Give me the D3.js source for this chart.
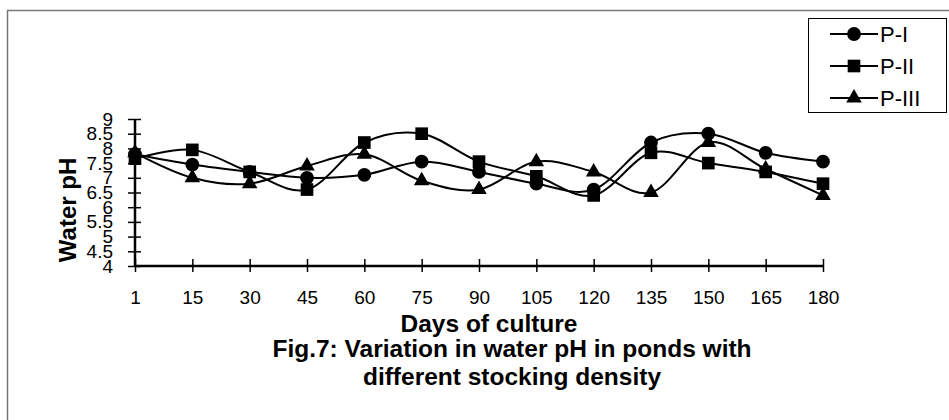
<!DOCTYPE html>
<html>
<head>
<meta charset="utf-8">
<script src="https://cdn.jsdelivr.net/npm/d3@7"></script>
<style>
  html, body { margin: 0; padding: 0; background: #fff; }
  svg { display: block; font-family: "Liberation Sans", Arial, sans-serif; }
</style>
</head>
<body>
<svg id="chart" width="949" height="420"></svg>
<script>
// Sampling days (days of culture)
const days = [1, 15, 30, 45, 60, 75, 90, 105, 120, 135, 150, 165, 180];

// Water pH per pond
const pI   = [7.8, 7.45, 7.2, 7.0, 7.1, 7.55, 7.2, 6.8, 6.6, 8.2, 8.5, 7.85, 7.55];
const pII  = [7.65, 7.95, 7.2, 6.6, 8.2, 8.5, 7.55, 7.05, 6.4, 7.85, 7.5, 7.2, 6.8];
const pIII = [7.85, 7.0, 6.8, 7.4, 7.8, 6.9, 6.6, 7.55, 7.2, 6.5, 8.2, 7.3, 6.4];

// Y-axis tick values
const yTicks = [4, 4.5, 5, 5.5, 6, 6.5, 7, 7.5, 8, 8.5, 9];

const seriesNames = ["P-I", "P-II", "P-III"];
const seriesShapes = [d3.symbolCircle, d3.symbolSquare, d3.symbolTriangle];
const seriesValues = [pI, pII, pIII];
const markerSize = [150, 160, 105];

const svg = d3.select("#chart");

// outer frame
svg.append("rect")
  .attr("x", 7.5).attr("y", 10.5)
  .attr("width", 1000).attr("height", 500)
  .attr("fill", "none").attr("stroke", "#777").attr("stroke-width", 1.5);

const plotLeft = 135, plotRight = 823, plotTop = 119, plotBottom = 266;

const x = d3.scalePoint().domain(days).range([plotLeft, plotRight]);
const y = d3.scaleLinear().domain([4, 9]).range([plotBottom, plotTop]);

// Y axis
const yAxis = svg.append("g").attr("transform", `translate(${plotLeft},0)`)
  .call(d3.axisLeft(y).tickValues(yTicks).tickSize(0).tickPadding(22)
    .tickFormat(d => d3.format("~g")(d)));
yAxis.select(".domain").remove();
yAxis.selectAll("text").attr("font-size", 19).attr("fill", "#000")
  .attr("font-family", "Liberation Sans, Arial, sans-serif");
yAxis.selectAll(".tick").append("line")
  .attr("x1", -7).attr("x2", 6).attr("stroke", "#000").attr("stroke-width", 1.5);
yAxis.append("line").attr("y1", y(4)).attr("y2", y(9))
  .attr("stroke", "#000").attr("stroke-width", 2.5);

// X axis
const xAxis = svg.append("g").attr("transform", `translate(0,${plotBottom})`)
  .call(d3.axisBottom(x).tickSize(0).tickPadding(25));
xAxis.select(".domain").remove();
xAxis.selectAll("text").attr("font-size", 19).attr("fill", "#000")
  .attr("font-family", "Liberation Sans, Arial, sans-serif");
xAxis.selectAll(".tick").append("line")
  .attr("y1", -7).attr("y2", 6).attr("stroke", "#000").attr("stroke-width", 1.5);
xAxis.append("line").attr("x1", plotLeft).attr("x2", plotRight)
  .attr("stroke", "#000").attr("stroke-width", 2.5);

// smoothed lines and markers
const line = d3.line()
  .x((d, i) => x(days[i]))
  .y(d => y(d))
  .curve(d3.curveCardinal.tension(0));

seriesValues.forEach((vals, s) => {
  svg.append("path")
    .datum(vals)
    .attr("d", line)
    .attr("fill", "none").attr("stroke", "#000").attr("stroke-width", 2);
  svg.append("g").selectAll("path")
    .data(vals)
    .join("path")
    .attr("transform", (d, i) => `translate(${x(days[i])},${y(d)})`)
    .attr("d", d3.symbol().type(seriesShapes[s]).size(markerSize[s]))
    .attr("fill", "#000");
});

// axis titles
svg.append("text")
  .attr("transform", "translate(76,210) rotate(-90)")
  .attr("text-anchor", "middle")
  .attr("font-size", 24).attr("font-weight", "bold")
  .text("Water pH");

svg.append("text")
  .attr("x", 489).attr("y", 332)
  .attr("text-anchor", "middle")
  .attr("font-size", 24.5).attr("font-weight", "bold")
  .text("Days of culture");

svg.append("text")
  .attr("x", 512).attr("y", 357)
  .attr("text-anchor", "middle")
  .attr("font-size", 24.5).attr("font-weight", "bold")
  .text("Fig.7: Variation in water pH in ponds with");

svg.append("text")
  .attr("x", 512).attr("y", 385)
  .attr("text-anchor", "middle")
  .attr("font-size", 24.5).attr("font-weight", "bold")
  .text("different stocking density");

// legend
const legend = svg.append("g");
legend.append("rect")
  .attr("x", 808.5).attr("y", 18.5).attr("width", 138).attr("height", 94)
  .attr("fill", "#fff").attr("stroke", "#000").attr("stroke-width", 1);
const legendY = d3.scalePoint().domain(seriesNames).range([34, 98]);
seriesNames.forEach((name, s) => {
  const ly = legendY(name);
  legend.append("line").attr("x1", 830).attr("x2", 878)
    .attr("y1", ly).attr("y2", ly).attr("stroke", "#000").attr("stroke-width", 2);
  legend.append("path")
    .attr("transform", `translate(854,${ly})`)
    .attr("d", d3.symbol().type(seriesShapes[s]).size(markerSize[s]))
    .attr("fill", "#000");
  legend.append("text")
    .attr("x", 880).attr("y", ly).attr("dy", "0.36em")
    .attr("font-size", 22)
    .text(name);
});
</script>
</body>
</html>
